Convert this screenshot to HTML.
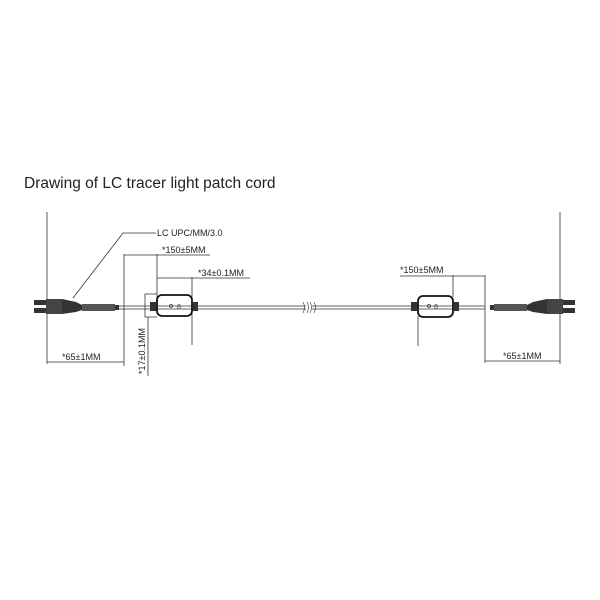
<!DOCTYPE html>
<html><head><meta charset="utf-8"><style>
html,body{margin:0;padding:0;background:#fff;}
svg{display:block}
text{font-family:"Liberation Sans",sans-serif;}
.d{font-family:"Liberation Sans Narrow","Liberation Sans",sans-serif;font-size:9px;fill:#222}
</style></head><body>
<svg width="600" height="600" viewBox="0 0 600 600" xmlns="http://www.w3.org/2000/svg">
<text x="24" y="188" font-size="15.5" fill="#222">Drawing of LC tracer light patch cord</text>
<g stroke="#333" stroke-width="0.8" fill="none">
<line x1="47" y1="212" x2="47" y2="364"/>
<line x1="560" y1="212" x2="560" y2="364"/>
<line x1="124" y1="254" x2="124" y2="366"/>
<line x1="157" y1="254" x2="157" y2="298"/>
<line x1="192" y1="277" x2="192" y2="345"/>
<line x1="148" y1="317" x2="148" y2="376"/>
<line x1="453" y1="275" x2="453" y2="297"/>
<line x1="418" y1="316" x2="418" y2="346"/>
<line x1="485" y1="275" x2="485" y2="363"/>
<line x1="47" y1="362" x2="124" y2="362"/>
<line x1="124" y1="255" x2="210" y2="255"/>
<line x1="157" y1="278" x2="250" y2="278"/>
<line x1="400" y1="276" x2="485" y2="276"/>
<line x1="485" y1="361" x2="560" y2="361"/>
<polyline points="73,298 123,233 156,233"/>
<polyline points="157,294 145,294 145,317 157,317"/>
<line x1="118" y1="306" x2="306" y2="306"/>
<line x1="118" y1="309" x2="306" y2="309"/>
<line x1="312" y1="306" x2="485" y2="306"/>
<line x1="312" y1="309" x2="485" y2="309"/>
<path d="M303,302 q3,5 0,11 M307,302 q3,5 0,11 M310,302 q3,5 0,11 M314,302 q3,5 0,11" stroke-width="0.6"/>
<rect x="157" y="295" width="35" height="21" rx="5" stroke="#111" stroke-width="1.8"/>
<rect x="418" y="296" width="35" height="21" rx="5" stroke="#111" stroke-width="1.8"/>
<circle cx="171" cy="306" r="1.5"/>
<circle cx="429" cy="306" r="1.5"/>
</g>
<g fill="#333">
<rect x="150" y="302" width="6" height="9"/><rect x="193" y="302" width="5" height="9"/>
<rect x="411" y="302" width="6" height="9"/><rect x="454" y="302" width="5" height="9"/>
<rect x="34" y="300" width="12" height="5"/><rect x="34" y="308" width="12" height="5"/>
<rect x="46" y="299" width="16" height="15" fill="#444"/>
<path d="M62,299 L76,302 L82,305 L82,310 L76,312 L62,314Z"/>
<rect x="82" y="304" width="33" height="7" fill="#555"/>
<rect x="115" y="305" width="4" height="5"/>
<rect x="563" y="300" width="12" height="5"/><rect x="563" y="308" width="12" height="5"/>
<rect x="547" y="299" width="16" height="15" fill="#444"/>
<path d="M547,299 L533,302 L527,305 L527,310 L533,312 L547,314Z"/>
<rect x="494" y="304" width="33" height="7" fill="#555"/>
<rect x="490" y="305" width="4" height="5"/>
</g>
<text class="d" x="157" y="236">LC UPC/MM/3.0</text>
<text class="d" x="162" y="253">*150±5MM</text>
<text class="d" x="198" y="276">*34±0.1MM</text>
<text class="d" x="62" y="360">*65±1MM</text>
<text class="d" x="400" y="273">*150±5MM</text>
<text class="d" x="503" y="359">*65±1MM</text>
<text class="d" x="145" y="374" transform="rotate(-90 145 374)">*17±0.1MM</text>
<text x="177" y="309" font-size="7" fill="#333">8</text>
<text x="434" y="309" font-size="7" fill="#333">8</text>
</svg>
</body></html>
